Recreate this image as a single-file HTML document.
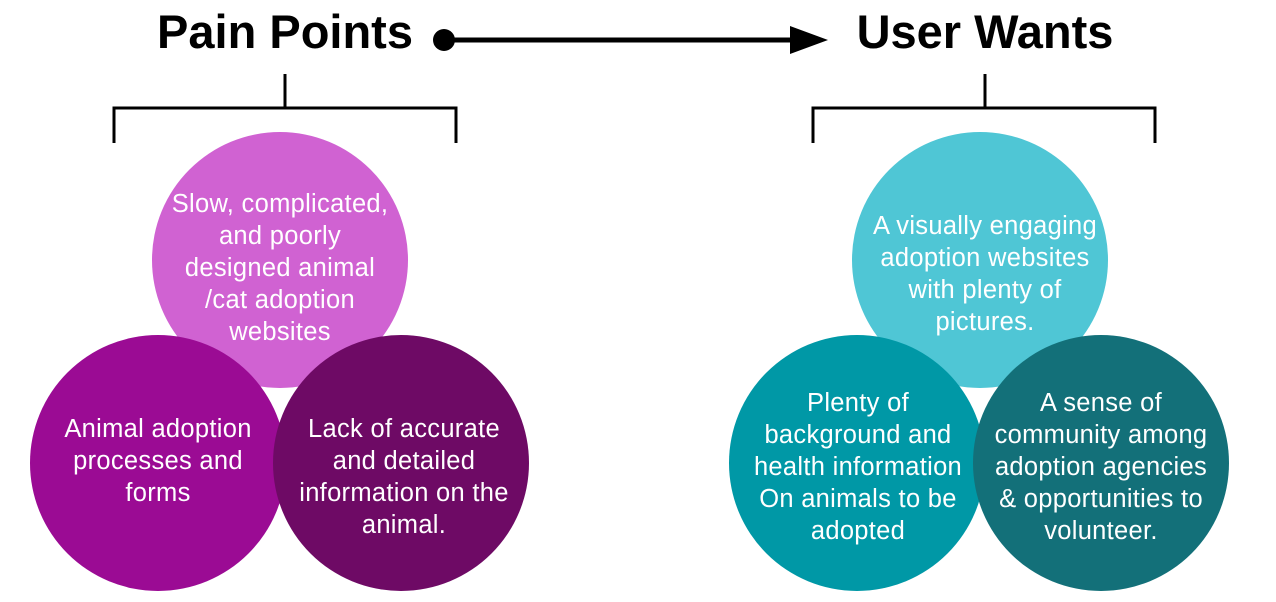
<!DOCTYPE html>
<html><head><meta charset="utf-8"><style>
html,body{margin:0;padding:0;background:#fff;}
svg{display:block;}
text{font-family:"Liberation Sans",sans-serif;}
</style></head><body>
<svg width="1276" height="602" viewBox="0 0 1276 602" xmlns="http://www.w3.org/2000/svg">
<text x="285" y="48" font-size="47" font-weight="bold" text-anchor="middle" fill="#000">Pain Points</text>
<text x="985" y="48" font-size="47" font-weight="bold" text-anchor="middle" fill="#000">User Wants</text>
<circle cx="444" cy="40" r="11" fill="#000"/>
<line x1="444" y1="40" x2="795" y2="40" stroke="#000" stroke-width="5"/>
<polygon points="790,26 828,40 790,54" fill="#000"/>
<g stroke="#000" stroke-width="3" fill="none">
<path d="M285 74 V108 M114 143 V108 H456 V143"/>
<path d="M985 74 V108 M813 143 V108 H1155 V143"/>
</g>
<circle cx="280" cy="260" r="128" fill="#D062D2"/>
<circle cx="158" cy="463" r="128" fill="#9B0B94"/>
<circle cx="401" cy="463" r="128" fill="#6E0A65"/>
<circle cx="980" cy="260" r="128" fill="#4FC6D5"/>
<circle cx="857" cy="463" r="128" fill="#0098A6"/>
<circle cx="1101" cy="463" r="128" fill="#137079"/>
<g fill="#fff" font-size="25.5" text-anchor="middle" letter-spacing="0.3">
<text x="280" y="212">Slow, complicated,</text>
<text x="280" y="244">and poorly</text>
<text x="280" y="276">designed animal</text>
<text x="280" y="308">/cat adoption</text>
<text x="280" y="340">websites</text>
<text x="158" y="437">Animal adoption</text>
<text x="158" y="469">processes and</text>
<text x="158" y="501">forms</text>
<text x="404" y="437">Lack of accurate</text>
<text x="404" y="469">and detailed</text>
<text x="404" y="501">information on the</text>
<text x="404" y="533">animal.</text>
<text x="985" y="234">A visually engaging</text>
<text x="985" y="266">adoption websites</text>
<text x="985" y="298">with plenty of</text>
<text x="985" y="330">pictures.</text>
<text x="858" y="411">Plenty of</text>
<text x="858" y="443">background and</text>
<text x="858" y="475">health information</text>
<text x="858" y="507">On animals to be</text>
<text x="858" y="539">adopted</text>
<text x="1101" y="411">A sense of</text>
<text x="1101" y="443">community among</text>
<text x="1101" y="475">adoption agencies</text>
<text x="1101" y="507">&amp; opportunities to</text>
<text x="1101" y="539">volunteer.</text>
</g>
</svg>
</body></html>
